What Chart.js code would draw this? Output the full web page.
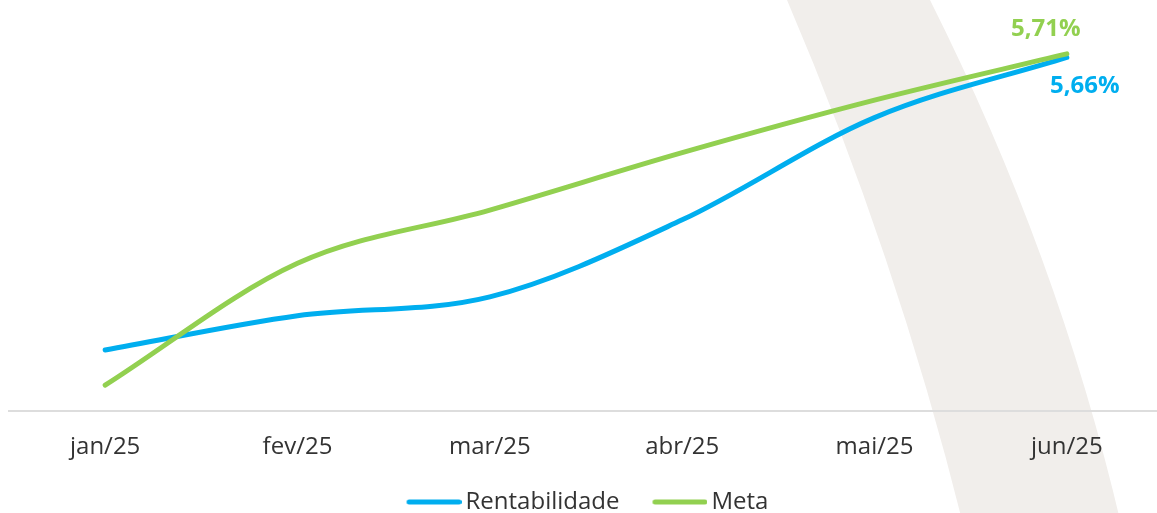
<!DOCTYPE html>
<html>
<head>
<meta charset="utf-8">
<script src="https://cdn.jsdelivr.net/npm/chart.js@4"></script>
<style>
  html, body { margin: 0; padding: 0; background: #fff; overflow: hidden; }
  #wrap { width: 1163px; height: 524px; position: relative; }
</style>
</head>
<body>
<div id="wrap"><canvas id="chart-rent"></canvas></div>
<script>
const meses = ['jan/25', 'fev/25', 'mar/25', 'abr/25', 'mai/25', 'jun/25'];
const rentabilidade = [1.48, 1.97, 2.24, 3.34, 4.80, 5.66];
const meta = [0.98, 2.72, 3.48, 4.30, 5.05, 5.71];
const rotulos = ['5,66%', '5,71%'];

const AZUL = '#00AEEF';
const VERDE = '#92D050';

// traço da legenda (linha com ponta arredondada, colada ao texto)
function tracoLegenda(cor) {
    const cv = document.createElement('canvas');
    cv.width = 66;
    cv.height = 8;
    const c = cv.getContext('2d');
    c.strokeStyle = cor;
    c.lineWidth = 5;
    c.lineCap = 'round';
    c.beginPath();
    c.moveTo(13.5, 4);
    c.lineTo(63.5, 4);
    c.stroke();
    return cv;
}

// faixa cinza decorativa ao fundo
const faixa = {
    id: 'faixa',
    beforeDraw(chart) {
        const c = chart.ctx;
        c.save();
        c.fillStyle = '#F1EEEB';
        c.beginPath();
        c.moveTo(787, 0);
        c.quadraticCurveTo(896, 255, 963, 524);
        c.lineTo(1121, 524);
        c.quadraticCurveTo(1058, 255, 930, 0);
        c.closePath();
        c.fill();
        c.restore();
    }
};

// valores do ultimo mes
const valorFinal = {
    id: 'valorFinal',
    afterDatasetsDraw(chart) {
        const c = chart.ctx;
        c.save();
        c.font = 'bold 24px "Open Sans"';
        c.textAlign = 'center';
        c.textBaseline = 'middle';
        const pR = chart.getDatasetMeta(0).data[5];
        const pM = chart.getDatasetMeta(1).data[5];
        c.fillStyle = AZUL;
        c.fillText(rotulos[0], pR.x + 18, pR.y + 29);
        c.fillStyle = VERDE;
        c.fillText(rotulos[1], pM.x - 21, pM.y - 25);
        c.restore();
    }
};

var ctx = document.getElementById('chart-rent');
var myChart = new Chart(ctx, {
    type: 'line',
    data: {
        labels: meses,
        datasets: [{
            label: 'Rentabilidade',
            data: rentabilidade,
            borderColor: AZUL,
            backgroundColor: AZUL,
            borderWidth: 5,
            borderCapStyle: 'round',
            cubicInterpolationMode: 'monotone',
            pointRadius: 0,
            pointStyle: tracoLegenda(AZUL),
            order: 1
        }, {
            label: 'Meta',
            data: meta,
            borderColor: VERDE,
            backgroundColor: VERDE,
            borderWidth: 5,
            borderCapStyle: 'round',
            cubicInterpolationMode: 'monotone',
            pointRadius: 0,
            pointStyle: tracoLegenda(VERDE),
            order: 0
        }]
    },
    options: {
        responsive: true,
        maintainAspectRatio: false,
        animation: false,
        layout: { padding: { left: 9, right: 0, top: 0, bottom: 0 } },
        plugins: {
            tooltip: { enabled: false },
            legend: {
                position: 'bottom',
                labels: {
                    usePointStyle: true,
                    pointStyleWidth: 50,
                    padding: 30,
                    color: '#333',
                    font: { family: '"Open Sans"', size: 24 },
                    sort: (a, b) => a.datasetIndex - b.datasetIndex
                }
            }
        },
        scales: {
            x: {
                offset: true,
                grid: { display: false, drawTicks: false },
                border: { display: true, color: '#DDDDDD', width: 2 },
                ticks: {
                    padding: 22,
                    color: '#333',
                    font: { family: '"Open Sans"', size: 24 }
                },
                afterFit: (scale) => { scale.height = 49; }
            },
            y: {
                display: false,
                min: 0.61,
                max: 6.48
            }
        }
    },
    plugins: [faixa, valorFinal]
});
</script>
</body>
</html>
